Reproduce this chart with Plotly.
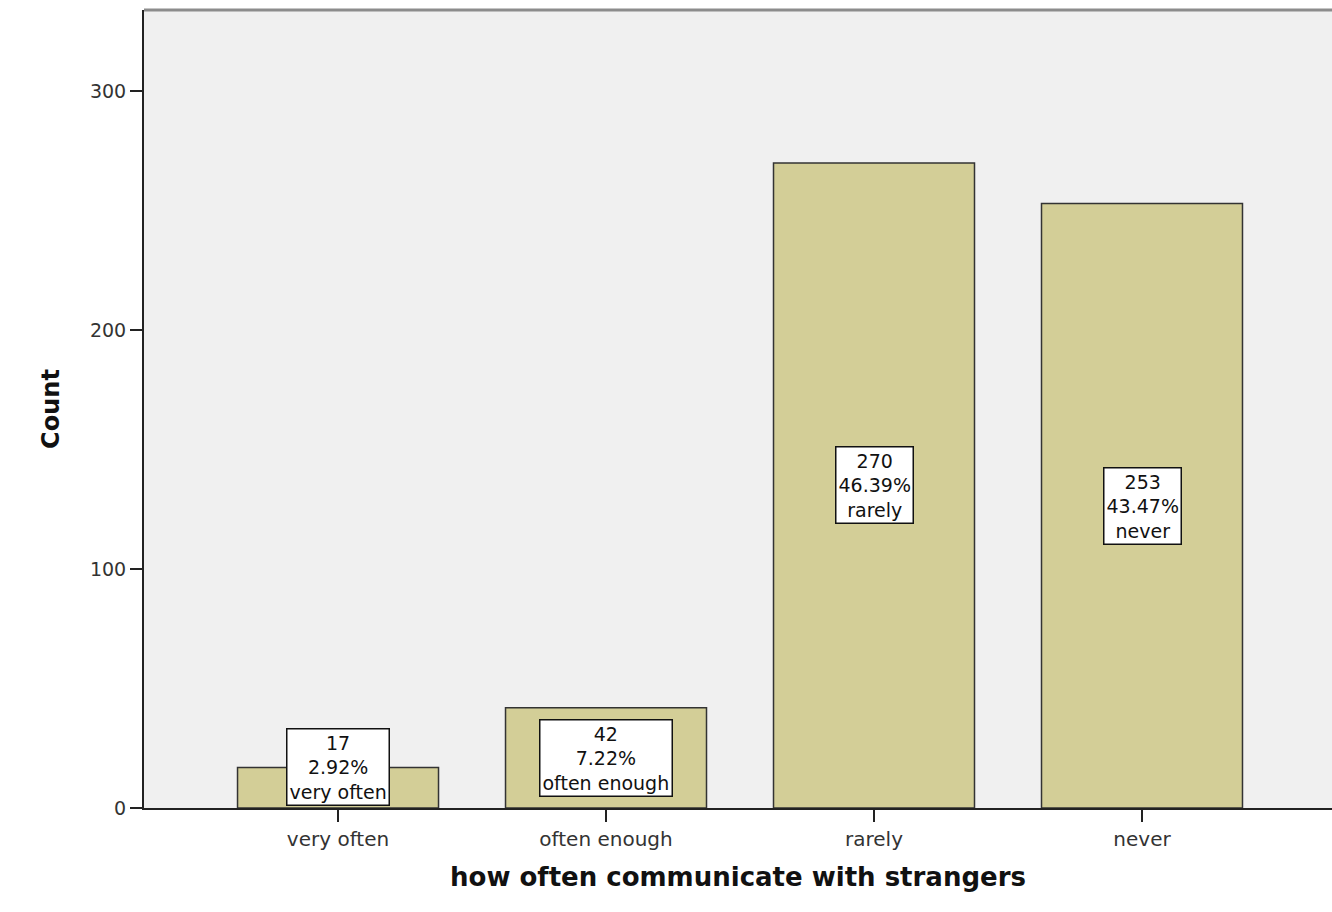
import plotly.graph_objects as go

categories = ["very often", "often enough", "rarely", "never"]
counts = [17, 42, 270, 253]
y_ticks = [0, 100, 200, 300]

total = sum(counts)
percents = [c / total * 100 for c in counts]

BAR_COLOR = "#d3ce97"
FONT = "DejaVu Sans"
LABEL_MIN_Y = 17  # keep label box above the axis for short bars

fig = go.Figure()
fig.add_trace(
    go.Bar(
        x=categories,
        y=counts,
        width=0.75,
        marker=dict(color=BAR_COLOR, line=dict(color="#333333", width=1.5)),
        hoverinfo="skip",
    )
)

for cat, cnt, pct in zip(categories, counts, percents):
    fig.add_annotation(
        x=cat,
        y=max(cnt / 2, LABEL_MIN_Y),
        text=f"{cnt}<br>{pct:.2f}%<br>{cat}",
        showarrow=False,
        font=dict(family=FONT, size=19, color="#111111"),
        bgcolor="white",
        bordercolor="#111111",
        borderwidth=1.5,
        borderpad=2,
    )

# grey top frame line
fig.add_shape(
    type="line", xref="paper", yref="paper", x0=0, x1=1, y0=1, y1=1,
    line=dict(color="#8c8c8c", width=3),
)

fig.update_layout(
    width=1332,
    height=912,
    margin=dict(l=144, r=0, t=10, b=104),
    paper_bgcolor="white",
    plot_bgcolor="#f0f0f0",
    showlegend=False,
    bargap=0.25,
    xaxis=dict(
        range=[-0.724, 3.709],
        showgrid=False,
        showline=True,
        linecolor="#222222",
        linewidth=2,
        ticks="outside",
        ticklen=12,
        tickwidth=2,
        tickcolor="#222222",
        tickfont=dict(family=FONT, size=20, color="#333333"),
        title=dict(
            text="<b>how often communicate with strangers</b>",
            font=dict(family=FONT, size=26, color="#111111"),
            standoff=18,
        ),
        automargin=False,
    ),
    yaxis=dict(
        range=[0, 334],
        tickvals=y_ticks,
        showgrid=False,
        zeroline=False,
        showline=True,
        linecolor="#222222",
        linewidth=2,
        ticks="outside",
        ticklen=12,
        tickwidth=2,
        tickcolor="#222222",
        tickfont=dict(family=FONT, size=19, color="#333333"),
        title=dict(
            text="<b>Count</b>",
            font=dict(family=FONT, size=24, color="#111111"),
            standoff=24,
        ),
        automargin=False,
    ),
)

fig.write_html(
    "out.html",
    config={"displayModeBar": False},
    post_script="document.body.style.margin='0';document.body.style.overflow='hidden';",
)
